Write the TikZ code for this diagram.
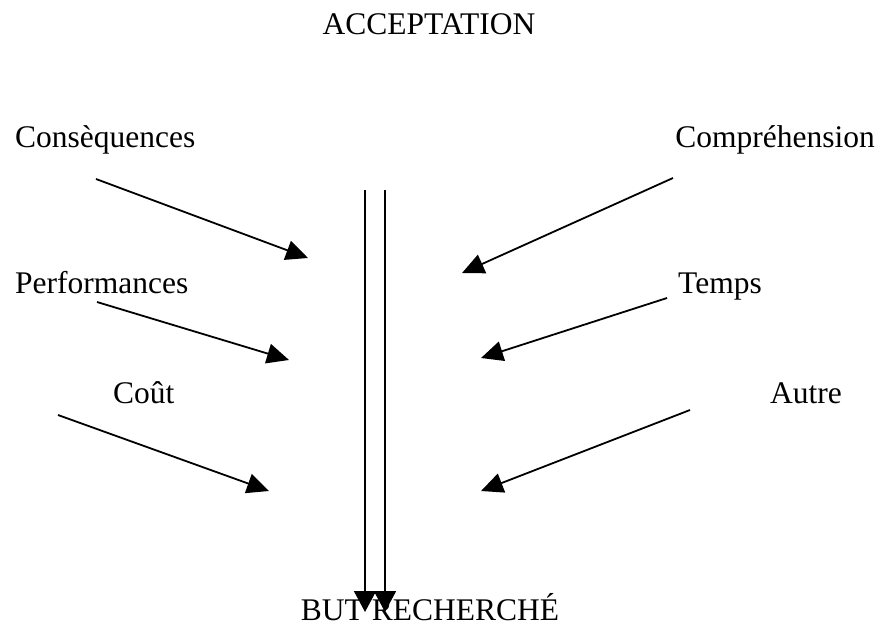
\documentclass[tikz,border=0pt]{standalone}
\usepackage{fontspec}
\setmainfont{Liberation Serif}
\usetikzlibrary{arrows.meta}
\begin{document}
\begin{tikzpicture}[x=1pt,y=-1pt,
  lbl/.style={inner sep=0pt,font=\fontsize{31.5}{36}\selectfont},
  arr/.style={line width=1.8pt,-{Triangle[length=22pt,width=20pt]}},
  varr/.style={line width=1.8pt,-{Triangle[length=21pt,width=22pt]}}]
\useasboundingbox (0,0) rectangle (880,626);
\node[lbl,anchor=base] (acc) at (429,35) {ACCEPTATION};
\node[lbl,anchor=base] (but) at (430,620) {BUT RECHERCHÉ};
\node[lbl,anchor=base west] (cons) at (15,147) {Consèquences};
\node[lbl,anchor=base east] (comp) at (875,147) {Compréhension};
\node[lbl,anchor=base west] (perf) at (15,293) {Performances};
\node[lbl,anchor=base west] (temps) at (678,293) {Temps};
\node[lbl,anchor=base west] (cout) at (113,403) {Coût};
\node[lbl,anchor=base west] (autre) at (770,403) {Autre};
\coordinate (c1) at (96,179);  \coordinate (c1t) at (308,258);
\coordinate (c2) at (673,178); \coordinate (c2t) at (462,273);
\coordinate (c3) at (97,302);  \coordinate (c3t) at (289,360);
\coordinate (c4) at (667,298); \coordinate (c4t) at (481,358);
\coordinate (c5) at (58,415);  \coordinate (c5t) at (269,491);
\coordinate (c6) at (690,410); \coordinate (c6t) at (481,491);
\coordinate (v1) at (365,190); \coordinate (v1t) at (365,612);
\coordinate (v2) at (385,190); \coordinate (v2t) at (385,612);
\draw[arr] (c1) -- (c1t);
\draw[arr] (c2) -- (c2t);
\draw[arr] (c3) -- (c3t);
\draw[arr] (c4) -- (c4t);
\draw[arr] (c5) -- (c5t);
\draw[arr] (c6) -- (c6t);
\draw[varr] (v1) -- (v1t);
\draw[varr] (v2) -- (v2t);
\end{tikzpicture}
\end{document}
